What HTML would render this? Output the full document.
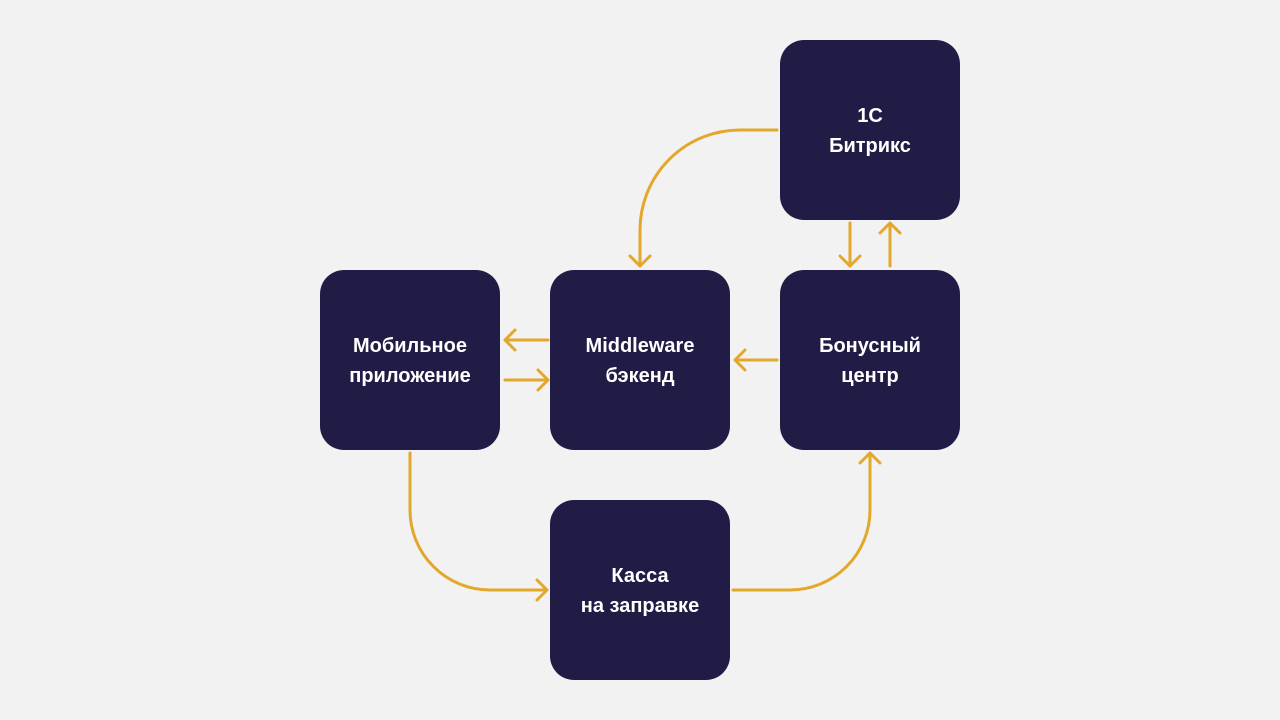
<!DOCTYPE html>
<html><head><style>
body{margin:0;width:1280px;height:720px;background:#f2f2f2;position:relative;overflow:hidden;font-family:"Liberation Sans",sans-serif}
.b{position:absolute;width:180px;height:180px;background:#211c45;border-radius:24px;color:#fff;font-weight:bold;font-size:20px;line-height:30px;display:flex;align-items:center;justify-content:center;text-align:center;padding-top:2px;box-sizing:border-box}
svg{position:absolute;left:0;top:0}
</style></head><body>
<div class="b" style="left:780px;top:40px">1C<br>Битрикс</div>
<div class="b" style="left:320px;top:270px">Мобильное<br>приложение</div>
<div class="b" style="left:550px;top:270px">Middleware<br>бэкенд</div>
<div class="b" style="left:780px;top:270px">Бонусный<br>центр</div>
<div class="b" style="left:550px;top:500px">Касса<br>на заправке</div>
<svg width="1280" height="720" fill="none" stroke="#e3a82b" stroke-width="3" stroke-linecap="round" stroke-linejoin="round">
<path d="M777 130 H740 A100 100 0 0 0 640 230 V266 M630 256 L640 266 L650 256"/>
<path d="M850 223 V266 M840 256 L850 266 L860 256"/>
<path d="M890 266 V223 M880 233 L890 223 L900 233"/>
<path d="M548 340 H505 M515 330 L505 340 L515 350"/>
<path d="M505 380 H548 M538 370 L548 380 L538 390"/>
<path d="M777 360 H735 M745 350 L735 360 L745 370"/>
<path d="M410 453 V510 A80 80 0 0 0 490 590 H547 M537 580 L547 590 L537 600"/>
<path d="M733 590 H790 A80 80 0 0 0 870 510 V453 M860 463 L870 453 L880 463"/>
</svg>
</body></html>
